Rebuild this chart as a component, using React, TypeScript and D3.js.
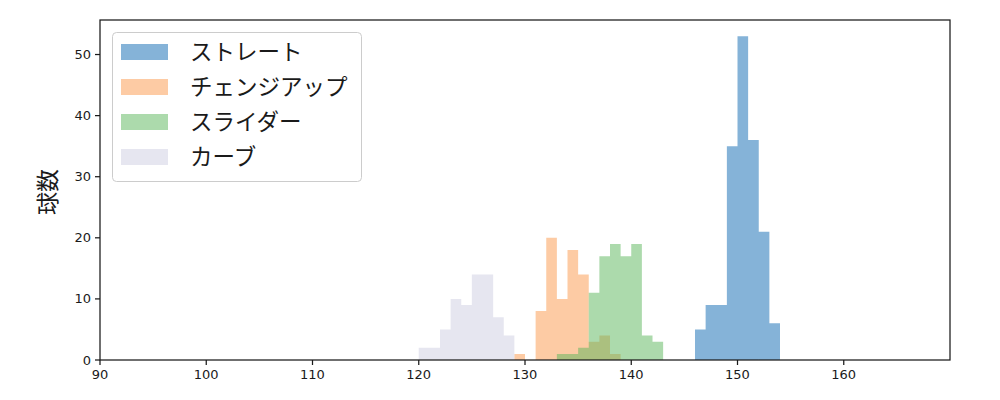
import React from "react";
import * as d3 from "d3";

const seriesNames = ["ストレート", "チェンジアップ", "スライダー", "カーブ"];
const seriesColors = ["#0b67b1", "#fb9749", "#59b559", "#cdcde1"];

// bin start (km/h) for each 1 km/h bin and counts
const straightStart = [146, 147, 148, 149, 150, 151, 152, 153];
const straightCounts = [5, 9, 9, 35, 53, 36, 21, 6];

const changeStart = [129, 130, 131, 132, 133, 134, 135, 136, 137, 138];
const changeCounts = [1, 0, 8, 20, 10, 18, 14, 3, 4, 1];

const sliderStart = [133, 134, 135, 136, 137, 138, 139, 140, 141, 142];
const sliderCounts = [1, 1, 2, 11, 17, 19, 17, 19, 4, 3];

const curveStart = [120, 121, 122, 123, 124, 125, 126, 127, 128];
const curveCounts = [2, 2, 5, 10, 9, 14, 14, 7, 4];

const xTicks = [90, 100, 110, 120, 130, 140, 150, 160];
const yTicks = [0, 10, 20, 30, 40, 50];

const binWidth = 1;

export default function App() {
  const W = 1000, H = 400;
  const left = 100, right = 950, top = 20, bottom = 360;
  const x = d3.scaleLinear().domain([90, 170]).range([left, right]);
  const y = d3.scaleLinear().domain([0, 55.65]).range([bottom, top]);

  const series = [
    { starts: straightStart, counts: straightCounts },
    { starts: changeStart, counts: changeCounts },
    { starts: sliderStart, counts: sliderCounts },
    { starts: curveStart, counts: curveCounts },
  ];

  const pathFor = (s: { starts: number[]; counts: number[] }) => {
    const p = d3.path();
    s.starts.forEach((st, i) => {
      const c = s.counts[i];
      if (c <= 0) return;
      p.rect(x(st), y(c), x(st + binWidth) - x(st), y(0) - y(c));
    });
    return p.toString();
  };

  const tickFont = "'DejaVu Sans', sans-serif";
  const jpFont = "'Noto Sans CJK JP', sans-serif";

  return (
    <svg width={W} height={H} style={{ position: "absolute", left: 0, top: 0 }}>
      <rect x={0} y={0} width={W} height={H} fill="#fff" />
      {series.map((s, si) => (
        <path key={si} d={pathFor(s)} fill={seriesColors[si]} fillOpacity={0.5} />
      ))}
      <rect x={left} y={top} width={right - left} height={bottom - top} fill="none" stroke="#1a1a1a" strokeWidth={1.25} />
      {xTicks.map((t) => (
        <g key={t}>
          <line x1={x(t)} x2={x(t)} y1={bottom} y2={bottom + 5} stroke="#1a1a1a" strokeWidth={1.25} />
          <text x={x(t)} y={bottom + 19} textAnchor="middle" fontFamily={tickFont} fontSize={13} fill="#1a1a1a">{t}</text>
        </g>
      ))}
      {yTicks.map((t) => (
        <g key={t}>
          <line x1={left - 5} x2={left} y1={y(t)} y2={y(t)} stroke="#1a1a1a" strokeWidth={1.25} />
          <text x={left - 9} y={y(t) + 4.5} textAnchor="end" fontFamily={tickFont} fontSize={13} fill="#1a1a1a">{t}</text>
        </g>
      ))}
      <text transform={`translate(56,192) rotate(-90)`} textAnchor="middle" fontFamily={jpFont} fontSize={23} fill="#1a1a1a">球数</text>
      <g>
        <rect x={112.5} y={32.5} width={249} height={149} rx={4} fill="#fff" fillOpacity={0.8} stroke="#cccccc" strokeWidth={1} />
        {seriesNames.map((n, i) => (
          <g key={n} transform={`translate(0,${52 + i * 35})`}>
            <rect x={121} y={-8} width={47} height={16} fill={seriesColors[i]} fillOpacity={0.5} />
            <text x={190} y={8} fontFamily={jpFont} fontSize={22.5} fill="#1a1a1a">{n}</text>
          </g>
        ))}
      </g>
    </svg>
  );
}
